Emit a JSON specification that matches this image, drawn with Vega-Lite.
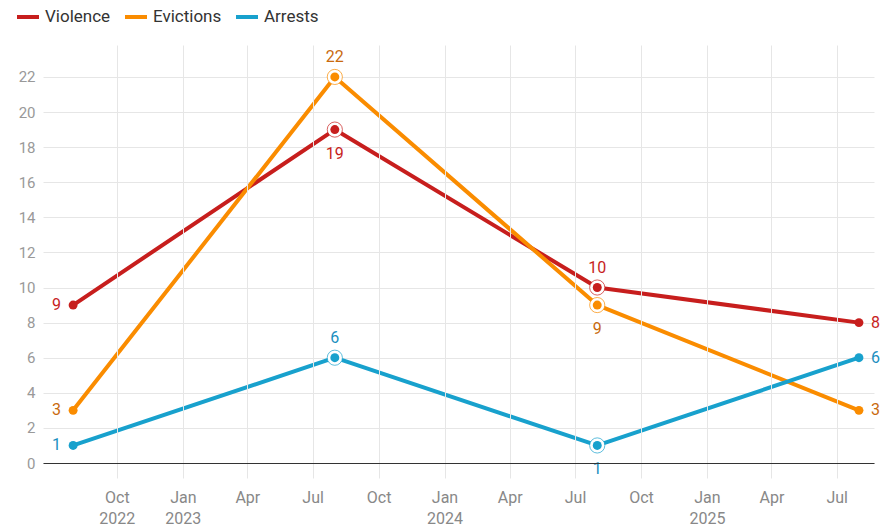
{
  "$schema": "https://vega.github.io/schema/vega-lite/v6.json",
  "width": 831,
  "height": 418,
  "autosize": {"type": "none"},
  "padding": {"left": 43, "top": 45, "right": 8, "bottom": 66},
  "background": "white",
  "config": {
    "font": "Roboto",
    "view": {"stroke": null},
    "legend": {
      "symbolType": "stroke",
      "symbolStrokeWidth": 4,
      "symbolSize": 484,
      "labelFontSize": 17,
      "labelColor": "#333333",
      "labelFont": "Roboto",
      "labelOffset": 4,
      "columnPadding": 6
    }
  },
  "data": {
    "values": [
      {"series": "Violence", "date": "2022-08-01", "value": 9},
      {"series": "Violence", "date": "2023-08-01", "value": 19},
      {"series": "Violence", "date": "2024-08-01", "value": 10},
      {"series": "Violence", "date": "2025-08-01", "value": 8},
      {"series": "Evictions", "date": "2022-08-01", "value": 3},
      {"series": "Evictions", "date": "2023-08-01", "value": 22},
      {"series": "Evictions", "date": "2024-08-01", "value": 9},
      {"series": "Evictions", "date": "2025-08-01", "value": 3},
      {"series": "Arrests", "date": "2022-08-01", "value": 1},
      {"series": "Arrests", "date": "2023-08-01", "value": 6},
      {"series": "Arrests", "date": "2024-08-01", "value": 1},
      {"series": "Arrests", "date": "2025-08-01", "value": 6}
    ]
  },
  "encoding": {
    "x": {
      "field": "date",
      "type": "temporal",
      "scale": {
        "type": "utc",
        "domain": [
          {"year": 2022, "month": 6, "date": 20, "utc": true},
          {"year": 2025, "month": 8, "date": 22, "utc": true}
        ]
      },
      "axis": {
        "title": null,
        "values": [
          {"year": 2022, "month": 10, "date": 1, "utc": true},
          {"year": 2023, "month": 1, "date": 1, "utc": true},
          {"year": 2023, "month": 4, "date": 1, "utc": true},
          {"year": 2023, "month": 7, "date": 1, "utc": true},
          {"year": 2023, "month": 10, "date": 1, "utc": true},
          {"year": 2024, "month": 1, "date": 1, "utc": true},
          {"year": 2024, "month": 4, "date": 1, "utc": true},
          {"year": 2024, "month": 7, "date": 1, "utc": true},
          {"year": 2024, "month": 10, "date": 1, "utc": true},
          {"year": 2025, "month": 1, "date": 1, "utc": true},
          {"year": 2025, "month": 4, "date": 1, "utc": true},
          {"year": 2025, "month": 7, "date": 1, "utc": true}
        ],
        "labelExpr": "utcmonth(datum.value)==0 || (utcyear(datum.value)==2022 && utcmonth(datum.value)==9) ? [utcFormat(datum.value,'%b'), utcFormat(datum.value,'%Y')] : utcFormat(datum.value,'%b')",
        "grid": true,
        "gridColor": "#e6e6e6",
        "tickColor": "#e6e6e6",
        "tickSize": 15,
        "domainColor": "#333333",
        "labelColor": "#888888",
        "labelFontSize": 16,
        "labelPadding": 11,
        "labelLineHeight": 21,
        "zindex": 1
      }
    },
    "y": {
      "field": "value",
      "type": "quantitative",
      "scale": {"domain": [0, 23.82], "nice": false, "zero": true},
      "axis": {
        "title": null,
        "values": [0, 2, 4, 6, 8, 10, 12, 14, 16, 18, 20, 22],
        "grid": true,
        "gridColor": "#e6e6e6",
        "domain": false,
        "ticks": false,
        "labelPadding": 8,
        "labelColor": "#999999",
        "labelFontSize": 15
      }
    }
  },
  "layer": [
    {
      "mark": {"type": "line", "strokeCap": "round", "strokeJoin": "round"},
      "encoding": {
        "color": {
          "field": "series",
          "type": "nominal",
          "sort": ["Violence", "Evictions", "Arrests"],
          "scale": {"domain": ["Violence", "Evictions", "Arrests"], "range": ["#c71e1d", "#fa8c00", "#18a1cd"]},
          "legend": {"orient": "none", "legendX": -28, "legendY": -41, "direction": "horizontal", "title": null}
        },
        "strokeWidth": {
          "field": "series",
          "type": "nominal",
          "scale": {"domain": ["Violence", "Evictions", "Arrests"], "range": [4, 4, 3]},
          "legend": null
        }
      }
    },
    {
      "transform": [{"filter": "utcyear(datum.date)==2023 || utcyear(datum.date)==2024"}],
      "mark": {"type": "point", "filled": false, "fill": "white", "fillOpacity": 1, "size": 230, "strokeWidth": 1, "strokeOpacity": 0.7},
      "encoding": {
        "stroke": {
          "field": "series",
          "type": "nominal",
          "scale": {"domain": ["Violence", "Evictions", "Arrests"], "range": ["#c71e1d", "#fa8c00", "#18a1cd"]},
          "legend": null
        }
      }
    },
    {
      "mark": {"type": "point", "filled": true, "size": 80, "opacity": 1},
      "encoding": {
        "color": {"field": "series", "type": "nominal", "legend": null}
      }
    },
    {
      "transform": [{"filter": "utcyear(datum.date)==2022"}],
      "mark": {"type": "text", "align": "right", "baseline": "middle", "dx": -12, "fontSize": 16},
      "encoding": {
        "text": {"field": "value", "type": "quantitative"},
        "fill": {"field": "series", "type": "nominal", "scale": {"domain": ["Violence", "Evictions", "Arrests"], "range": ["#c71e1d", "#c96a0e", "#1a8fc0"]}, "legend": null}
      }
    },
    {
      "transform": [{"filter": "utcyear(datum.date)==2025"}],
      "mark": {"type": "text", "align": "left", "baseline": "middle", "dx": 12, "fontSize": 16},
      "encoding": {
        "text": {"field": "value", "type": "quantitative"},
        "fill": {"field": "series", "type": "nominal", "legend": null}
      }
    },
    {
      "transform": [{"filter": "(datum.series=='Violence' && utcyear(datum.date)==2024) || (datum.series!='Violence' && utcyear(datum.date)==2023)"}],
      "mark": {"type": "text", "align": "center", "baseline": "middle", "dy": -20, "fontSize": 16},
      "encoding": {
        "text": {"field": "value", "type": "quantitative"},
        "fill": {"field": "series", "type": "nominal", "legend": null}
      }
    },
    {
      "transform": [{"filter": "(datum.series=='Violence' && utcyear(datum.date)==2023) || (datum.series!='Violence' && utcyear(datum.date)==2024)"}],
      "mark": {"type": "text", "align": "center", "baseline": "middle", "dy": 24, "fontSize": 16},
      "encoding": {
        "text": {"field": "value", "type": "quantitative"},
        "fill": {"field": "series", "type": "nominal", "legend": null}
      }
    }
  ]
}
